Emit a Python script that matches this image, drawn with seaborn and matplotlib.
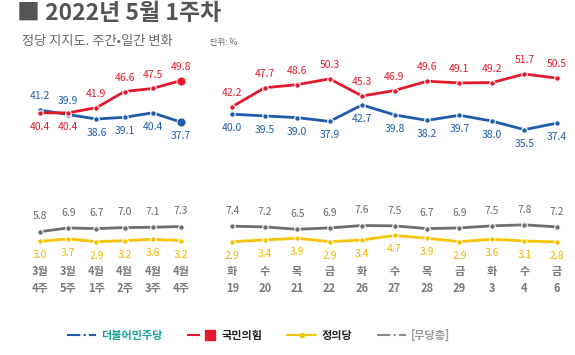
import pandas as pd
import seaborn as sns
import matplotlib.pyplot as plt
from matplotlib.lines import Line2D
from matplotlib.legend_handler import HandlerTuple

# weekly (left panel)
week_labels = ["3월\n4주", "3월\n5주", "4월\n1주", "4월\n2주", "4월\n3주", "4월\n4주"]
dem_w = [41.2, 39.9, 38.6, 39.1, 40.4, 37.7]
ppp_w = [40.4, 40.4, 41.9, 46.6, 47.5, 49.8]
jus_w = [3.0, 3.7, 2.9, 3.2, 3.6, 3.2]
ind_w = [5.8, 6.9, 6.7, 7.0, 7.1, 7.3]

# daily (right panel)
day_labels = ["화\n19", "수\n20", "목\n21", "금\n22", "화\n26", "수\n27",
              "목\n28", "금\n29", "화\n3", "수\n4", "금\n6"]
dem_d = [40.0, 39.5, 39.0, 37.9, 42.7, 39.8, 38.2, 39.7, 38.0, 35.5, 37.4]
ppp_d = [42.2, 47.7, 48.6, 50.3, 45.3, 46.9, 49.6, 49.1, 49.2, 51.7, 50.5]
jus_d = [2.9, 3.4, 3.9, 2.9, 3.4, 4.7, 3.9, 2.9, 3.6, 3.1, 2.8]
ind_d = [7.4, 7.2, 6.5, 6.9, 7.6, 7.5, 6.7, 6.9, 7.5, 7.8, 7.2]

parties = ["더불어민주당", "국민의힘", "정의당", "[무당층]"]
colors = {"더불어민주당": "#1f5cab", "국민의힘": "#e5192e",
          "정의당": "#f6c300", "[무당층]": "#6f6f6f"}
label_colors = {"더불어민주당": "#1f5cab", "국민의힘": "#e5192e",
                "정의당": "#f0b400", "[무당층]": "#6a6a6a"}

sns.set_theme(style="white")
plt.rcParams['font.family'] = ['Noto Sans CJK KR', 'DejaVu Sans']


def to_long(series):
    rows = []
    for name, vals in zip(parties, series):
        for i, v in enumerate(vals):
            rows.append({"party": name, "x": i, "value": v})
    return pd.DataFrame(rows)


df_w = to_long([dem_w, ppp_w, jus_w, ind_w])
df_d = to_long([dem_d, ppp_d, jus_d, ind_d])

fig = plt.figure(figsize=(5.75, 3.55), dpi=100)
ax_w = fig.add_axes([0.0452, 0.2732, 0.2939, 0.5577])
ax_d = fig.add_axes([0.3757, 0.2732, 0.6209, 0.5577])

# label placement: +1 above, -1 below
pos_w = {"더불어민주당": [1, 1, -1, -1, -1, -1],
         "국민의힘": [-1, -1, 1, 1, 1, 1],
         "정의당": [-1] * 6, "[무당층]": [1] * 6}
pos_d = {"더불어민주당": [-1] * 11, "국민의힘": [1] * 11,
         "정의당": [-1] * 11, "[무당층]": [1] * 11}

for ax, df, labels, pos, big_last in [(ax_w, df_w, week_labels, pos_w, True),
                                     (ax_d, df_d, day_labels, pos_d, False)]:
    sns.lineplot(data=df, x="x", y="value", hue="party", hue_order=parties,
                 palette=colors, linewidth=2.0, marker="o", markersize=4,
                 markeredgecolor="white", markeredgewidth=0.8,
                 legend=False, ax=ax)
    for name in parties:
        sub = df[df["party"] == name]
        for (_, r), p in zip(sub.iterrows(), pos[name]):
            off = 11 if name == "[무당층]" else 10
            ax.annotate(f"{r['value']:.1f}", (r["x"], r["value"]),
                        xytext=(0, p * off), textcoords="offset points",
                        ha="center", va="center", fontsize=7.5,
                        color=label_colors[name])
        if big_last and name in ("더불어민주당", "국민의힘"):
            last = sub.iloc[-1]
            ax.plot(last["x"], last["value"], "o", color=colors[name],
                    markersize=6.5, markeredgecolor="white", markeredgewidth=0.6)
    n = len(labels)
    ax.set_xlim(-0.5, n - 0.5)
    ax.set_ylim(-1.86, 55.77)
    ax.set_xticks(range(n))
    ax.set_xticklabels(labels, fontsize=8, color="#7a7a7a", fontweight="bold",
                       linespacing=1.45)
    ax.tick_params(axis="x", length=0, pad=5)
    ax.set_yticks([])
    ax.set_xlabel("")
    ax.set_ylabel("")
    sns.despine(ax=ax, left=True, bottom=True)

# titles
fig.text(0.029, 1 - 14 / 355, "■ 2022년 5월 1주차", fontsize=16.5,
         fontweight="bold", color="#555555", va="center", ha="left")
fig.text(0.038, 1 - 42 / 355, "정당 지지도. 주간•일간 변화", fontsize=9.5,
         color="#666666", va="center", ha="left")
fig.text(0.365, 1 - 42 / 355, "단위: %", fontsize=6, color="#666666",
         va="center", ha="left")

# legend
h_dem = Line2D([], [], color=colors["더불어민주당"], linestyle="-.", linewidth=1.5)
h_ppp = (Line2D([], [], color=colors["국민의힘"], linestyle="-.", linewidth=1.5),
         Line2D([], [], color=colors["국민의힘"], marker="s", markersize=7,
                linestyle="none"))
h_jus = Line2D([], [], color=colors["정의당"], linestyle="-", linewidth=1.5,
               marker="o", markersize=3, markevery=[1])
h_ind = Line2D([], [], color="#8a8a8a", linestyle="-.", linewidth=1.5)
leg = fig.legend([h_dem, h_ppp, h_jus, h_ind], parties, ncol=4,
                 loc="center", bbox_to_anchor=(0.45, 1 - 335 / 355),
                 frameon=False, handlelength=2.6,
                 columnspacing=2.2, handletextpad=0.5,
                 handler_map={tuple: HandlerTuple(ndivide=None, pad=0.3)},
                 labelcolor=["#18a39a", "#222222", "#222222", "#999999"],
                 prop={"weight": "bold", "size": 8})

fig.savefig("out.png", dpi=100)
